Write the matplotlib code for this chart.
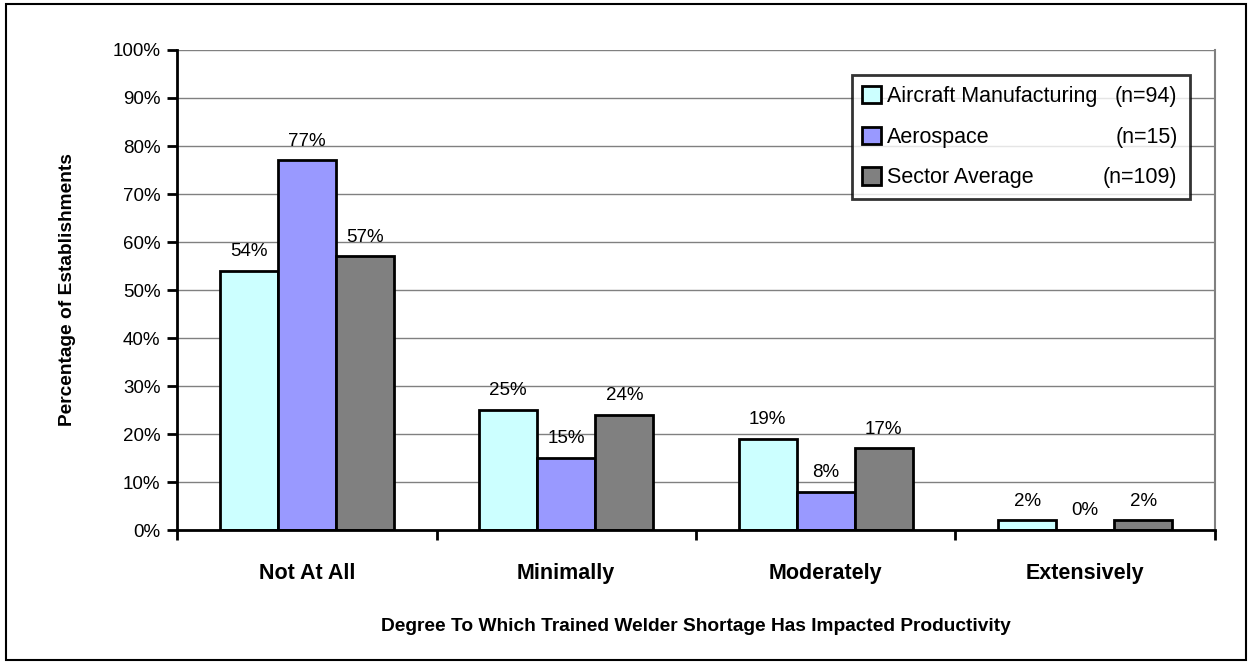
import matplotlib.pyplot as plt
import numpy as np
from matplotlib.patches import Rectangle

plt.rcParams['font.family'] = ['Liberation Sans', 'DejaVu Sans']

categories = ["Not At All", "Minimally", "Moderately", "Extensively"]
series_names = ["Aircraft Manufacturing", "Aerospace", "Sector Average"]
series_n = ["(n=94)", "(n=15)", "(n=109)"]
aircraft = [54, 25, 19, 2]
aerospace = [77, 15, 8, 0]
sector = [57, 24, 17, 2]
colors = ["#CCFFFF", "#9999FF", "#808080"]

fig = plt.figure(figsize=(12.52, 6.64), dpi=100)
fig.patches.append(Rectangle((0.005, 0.006), 0.99, 0.988, transform=fig.transFigure,
                             fill=False, edgecolor="black", linewidth=1.5))
ax = fig.add_axes([0.1414, 0.2018, 0.829, 0.7229])

x = np.arange(len(categories))
w = 0.224
handles = []
for i, vals in enumerate([aircraft, aerospace, sector]):
    pos = x + (i - 1) * w
    b = ax.bar(pos, vals, width=w, color=colors[i], edgecolor="black", linewidth=2, zorder=3)
    handles.append(b)
    for px, v in zip(pos, vals):
        ax.text(px, v + 3.1, f"{v}%", ha="center", va="baseline", fontsize=13.5)

ax.set_xlim(-0.5, 3.5)
ax.set_ylim(0, 100)
ax.set_yticks(np.arange(0, 101, 10))
ax.set_yticklabels([f"{t}%" for t in range(0, 101, 10)], fontsize=13.5)
ax.yaxis.grid(True, color="#808080", linewidth=1, zorder=0)
ax.set_xticks(np.arange(-0.5, 3.6, 1))
ax.set_xticklabels([])
ax.set_xticks(x, minor=True)
ax.set_xticklabels(categories, minor=True, fontsize=15.5, fontweight="bold")
ax.tick_params(axis="x", which="minor", length=0, pad=24)
ax.tick_params(axis="x", which="major", length=7, width=2, direction="out")
ax.tick_params(axis="y", length=7, width=2, direction="out", pad=5)
ax.spines["top"].set_visible(False)
ax.spines["right"].set_color("#808080")
ax.spines["right"].set_linewidth(1.5)
for s in ["left", "bottom"]:
    ax.spines[s].set_linewidth(2)
    ax.spines[s].set_zorder(4)

ax.set_ylabel("Percentage of Establishments", fontsize=13.8, fontweight="bold", labelpad=26)
ax.set_xlabel("Degree To Which Trained Welder Shortage Has Impacted Productivity",
              fontsize=13.8, fontweight="bold", labelpad=24)

leg = ax.legend(handles, series_names, loc="upper left", bbox_to_anchor=(0.650, 0.694, 0.326, 0.254),
                mode="expand", fontsize=15.5, frameon=True, fancybox=False, handlelength=0.85,
                handleheight=0.85, handletextpad=0.3, labelspacing=0.92, borderaxespad=0,
                borderpad=0.5)
leg.get_frame().set_edgecolor("black")
leg.get_frame().set_linewidth(2)
leg.set_zorder(6)

# put the n= counts right-aligned on the same rows as the legend labels
fig.canvas.draw()
inv = ax.transAxes.inverted()
for t, n in zip(leg.get_texts(), series_n):
    bb = t.get_window_extent()
    yy = inv.transform((0, (bb.y0 + bb.y1) / 2))[1]
    ax.text(0.964, yy, n, transform=ax.transAxes, ha="right", va="center", fontsize=15.5, zorder=10)

fig.savefig("out.png", dpi=100)
